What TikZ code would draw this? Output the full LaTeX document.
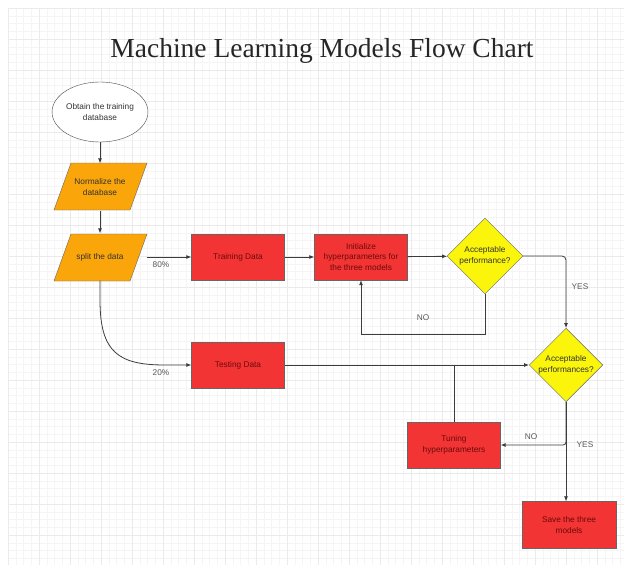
\documentclass[tikz,border=0pt]{standalone}
\usepackage{fontspec}
\setmainfont{Liberation Sans}
\newfontfamily\titlefont{Liberation Serif}
\usetikzlibrary{shapes.geometric,arrows.meta}
\definecolor{boxred}{RGB}{242,52,52}
\definecolor{boxorange}{RGB}{250,165,10}
\definecolor{boxyellow}{RGB}{250,245,10}
\definecolor{edgegray}{RGB}{60,60,60}
\definecolor{redtext}{RGB}{110,10,10}
\tikzset{
  smallfont/.style={font=\fontsize{8.3}{10.5}\selectfont},
  lbl/.style={smallfont, text=black!65, align=center},
  redbox/.style={draw=black!60, fill=boxred, minimum width=93, minimum height=46, inner sep=0, align=center, smallfont, text=redtext},
  parabox/.style={minimum width=93, minimum height=47, inner sep=0, align=center, smallfont, text=black!80},
  decision/.style={diamond, draw=black!60, fill=boxyellow, minimum width=76, minimum height=76, inner sep=0, align=center, smallfont, text=black!80},
  startnode/.style={ellipse, draw=black!70, fill=white, minimum width=94, minimum height=60, inner sep=0, align=center, smallfont, text=black!80},
  conn/.style={draw=edgegray, line width=0.8pt, -{Latex[length=5pt,width=4pt]}},
  plainconn/.style={draw=edgegray, line width=0.8pt},
  paraedge/.style={draw=black!60, fill=boxorange}
}
\begin{document}
\begin{tikzpicture}[x=1pt,y=-1pt]
\useasboundingbox (0,0) rectangle (631,570);
\fill[white] (0,0) rectangle (631,570);
% grid
\foreach \i in {0,...,79} {
  \draw[black!4, line width=0.4pt] ({8+\i*7.75},8) -- ({8+\i*7.75},565);
}
\foreach \j in {0,...,71} {
  \draw[black!4, line width=0.4pt] (8,{8+\j*7.75}) -- (624,{8+\j*7.75});
}
\foreach \i in {0,...,19} {
  \draw[black!8, line width=0.5pt] ({8+\i*31},8) -- ({8+\i*31},565);
}
\foreach \j in {0,...,17} {
  \draw[black!8, line width=0.5pt] (8,{8+\j*31}) -- (624,{8+\j*31});
}
% title
\node[font=\titlefont\fontsize{27.5}{30}\selectfont, text=black!85, anchor=base] (title) at (322,57) {Machine Learning Models Flow Chart};
% parallelogram shapes
\path[paraedge] (71,163) -- (147,163) -- (130,210) -- (54,210) -- cycle;
\path[paraedge] (71,234) -- (147,234) -- (130,281) -- (54,281) -- cycle;
% nodes
\node[startnode] (obtain) at (100,112) {Obtain the training\\database};
\node[parabox] (norm) at (100,187) {Normalize the\\database};
\node[parabox] (split) at (100,257) {split the data};
\node[redbox] (train) at (238,257) {Training Data};
\node[redbox] (init) at (361,257) {Initialize\\hyperparameters for\\the three models};
\node[decision] (acc1) at (485,256) {Acceptable\\performance?};
\node[decision, minimum width=70, minimum height=72] (acc2) at (566,365) {Acceptable\\performances?};
\node[redbox] (test) at (238,365) {Testing Data};
\node[redbox] (tune) at (454,445) {Tuning\\hyperparameters};
\node[redbox, minimum width=94, minimum height=47] (save) at (569,525) {Save the three\\models};
% connectors
\draw[conn] (obtain) -- (norm);
\draw[conn] (norm) -- (split);
\draw[conn] (split.east) -- (train.west);
\node[lbl] (p80) at (161,265) {80\%};
\draw[conn] (train) -- (init);
\draw[conn] (init) -- (acc1);
\draw[conn, rounded corners=4pt] (acc1.east) -| (acc2.north);
\node[lbl] (yes1) at (580,287) {YES};
\draw[conn] (acc1.south) -- (485,334) -- (init.south |- 0,334) -- (init.south);
\node[lbl] (no1) at (423,318) {NO};
\draw[conn] (split.south) -- (100,300) .. controls (100,352) and (118,365) .. (165,365) -- (test.west);
\node[lbl] (p20) at (161,373) {20\%};
\draw[conn] (test.east) -- (acc2.west);
\draw[plainconn] (tune.north) -- (tune.north |- test.east);
\draw[conn, rounded corners=3pt] (acc2.south) |- (tune.east);
\draw[conn] (acc2.south) -- (acc2.south |- save.north);
\node[lbl] (no2) at (531,437) {NO};
\node[lbl] (yes2) at (585,445) {YES};
\end{tikzpicture}
\end{document}
